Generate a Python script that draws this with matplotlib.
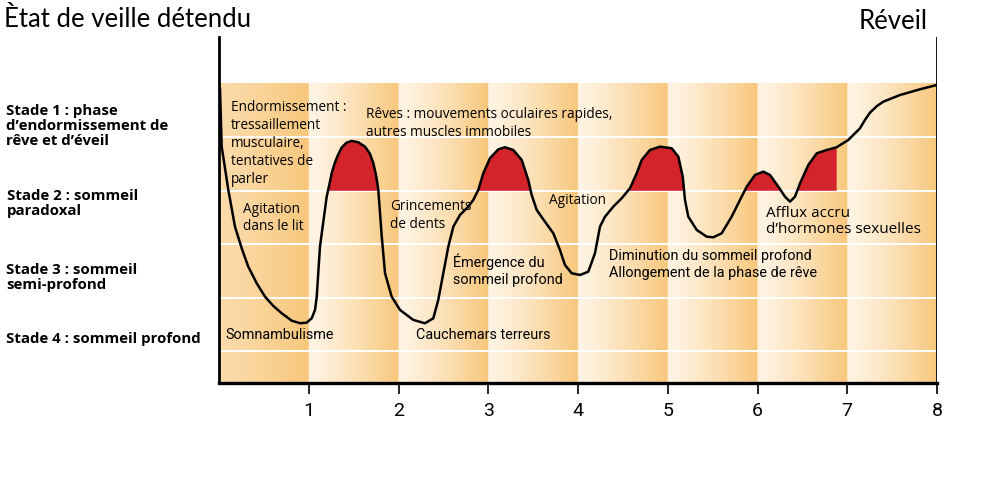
import numpy as np
import matplotlib
matplotlib.use("Agg")
import matplotlib.pyplot as plt
from matplotlib.colors import to_rgb

# ---- data (hours, sleep level: white lines at 1..5, band top at 6) ----
hours = [0.011, 0.030, 0.104, 0.178, 0.253, 0.326, 0.420, 0.513, 0.605, 0.699, 0.810,
         0.903, 0.977, 1.033, 1.070, 1.089, 1.125, 1.200, 1.230, 1.256, 1.290, 1.320,
         1.367, 1.420, 1.479, 1.550, 1.627, 1.680, 1.719, 1.745, 1.762, 1.775, 1.813,
         1.850, 1.924, 2.017, 2.165, 2.295, 2.388, 2.443, 2.499, 2.555, 2.611, 2.685,
         2.778, 2.833, 2.889, 2.945, 3.019, 3.112, 3.187, 3.279, 3.373, 3.446, 3.484,
         3.540, 3.632, 3.725, 3.799, 3.855, 3.930, 4.022, 4.115, 4.189, 4.245, 4.301,
         4.393, 4.487, 4.579, 4.654, 4.710, 4.802, 4.914, 5.044, 5.118, 5.167, 5.192,
         5.229, 5.323, 5.434, 5.508, 5.601, 5.712, 5.805, 5.880, 5.972, 6.065, 6.139,
         6.232, 6.306, 6.362, 6.418, 6.474, 6.566, 6.660, 6.771, 6.882, 7.011, 7.142,
         7.197, 7.253, 7.331, 7.402, 7.588, 7.811, 7.997]
levels = [5.925, 4.826, 4.015, 3.328, 2.923, 2.579, 2.268, 2.017, 1.843, 1.706, 1.567,
          1.519, 1.530, 1.612, 1.768, 2.017, 2.953, 3.890, 4.120, 4.333, 4.520, 4.650,
          4.810, 4.900, 4.933, 4.910, 4.826, 4.700, 4.521, 4.330, 4.170, 4.015, 3.150,
          2.455, 2.017, 1.768, 1.581, 1.519, 1.612, 1.955, 2.455, 2.953, 3.328, 3.547,
          3.702, 3.828, 4.015, 4.328, 4.609, 4.777, 4.815, 4.764, 4.577, 4.202, 3.921,
          3.640, 3.421, 3.204, 2.891, 2.610, 2.455, 2.423, 2.485, 2.830, 3.328, 3.515,
          3.702, 3.860, 4.047, 4.328, 4.577, 4.764, 4.826, 4.796, 4.639, 4.264, 3.828,
          3.515, 3.266, 3.140, 3.129, 3.204, 3.515, 3.828, 4.077, 4.296, 4.358, 4.296,
          4.077, 3.890, 3.796, 3.890, 4.140, 4.483, 4.702, 4.764, 4.815, 4.951, 5.170,
          5.326, 5.462, 5.588, 5.669, 5.794, 5.901, 5.981]
hour_ticks = [1, 2, 3, 4, 5, 6, 7, 8]
grid_levels = [1, 2, 3, 4, 5]
rem_level = 4
rem_start = 1.0
rem_end = 6.882

title_left = "Ètat de veille détendu"
title_right = "Réveil"
stage_labels = ["Stade 1 : phase\nd\u2019endormissement de\nrêve et d\u2019éveil",
                "Stade 2 : sommeil\nparadoxal",
                "Stade 3 : sommeil\nsemi-profond",
                "Stade 4 : sommeil profond"]
notes = ["Endormissement :\ntressaillement\nmusculaire,\ntentatives de\nparler",
         "Rêves : mouvements oculaires rapides,\nautres muscles immobiles",
         "Agitation\ndans le lit",
         "Grincements\nde dents",
         "Agitation",
         "Afflux accru\nd\u2019hormones sexuelles"]
notes_narrow = ["Émergence du\nsommeil profond",
                "Diminution du sommeil profond\nAllongement de la phase de rêve",
                "Somnambulisme",
                "Cauchemars terreurs"]

# ---- figure ----
W, H = 992, 483
fig = plt.figure(figsize=(W / 100, H / 100), dpi=100)
ax = fig.add_axes([219 / W, 1 - 383 / H, (937 - 219) / W, (383 - 37) / H])
ax.set_xlim(0, 8)
ax.set_ylim(0.40, 6.88)

# background gradient bands
light = np.array(to_rgb("#fff4e4"))
dark = np.array(to_rgb("#f8c77c"))
n = 120
t = np.linspace(0, 1, n) ** 1.25
col = light[None, :] * (1 - t[:, None]) + dark[None, :] * t[:, None]
img = np.concatenate([col] * 8, axis=0)[None, :, :]
img[0, :n] = light[None, :] * 0.45 * (1 - t[:, None]) + dark[None, :] * (0.55 + 0.45 * t[:, None])
ax.imshow(img, extent=[0, 8, 0.40, 6.0], aspect="auto", interpolation="bilinear", zorder=0)

for g in grid_levels:
    ax.axhline(g, color="white", lw=1.4, zorder=1)

x = np.array(hours)
y = np.array(levels)
ax.fill_between(x, rem_level, y,
                where=(y >= rem_level) & (x >= rem_start) & (x <= rem_end + 1e-6),
                interpolate=True, color="#d3232b", lw=0, zorder=2)
ax.plot(x, y, color="black", lw=1.8, zorder=3, solid_capstyle="round",
        solid_joinstyle="round")

# axes frame
for s in ["top", "right"]:
    ax.spines[s].set_visible(False)
ax.spines["left"].set_linewidth(2.0)
ax.spines["bottom"].set_linewidth(2.4)
ax.axvline(8, color="black", lw=2.0, zorder=4)
ax.set_yticks([])
ax.set_xticks(hour_ticks)
ax.set_xticklabels([str(h) for h in hour_ticks],
                   fontfamily=["Roboto", "DejaVu Sans"], fontsize=14)
ax.tick_params(axis="x", length=8, width=1.2, pad=6)

def px(xp, yp):
    return xp / W, 1 - yp / H

sans = ["Open Sans", "DejaVu Sans"]
narrow = ["Roboto", "DejaVu Sans"]

fig.text(*px(4, 7), title_left, fontfamily=["Lato", "DejaVu Sans"], fontsize=18.5,
         va="top", ha="left")
fig.text(*px(928, 9), title_right, fontfamily=["Lato", "DejaVu Sans"], fontsize=18.5,
         va="top", ha="right")

stage_pos = [(6, 104), (7, 189), (6, 263), (6, 332)]
for (xp, yp), s in zip(stage_pos, stage_labels):
    fig.text(*px(xp, yp), s, fontfamily=sans, fontsize=10.8, fontweight="bold",
             va="top", ha="left", linespacing=1.1)

note_pos = [(231, 100), (366, 107), (243, 202), (390, 199), (549, 193), (766, 206)]
note_size = [9.8, 9.8, 9.8, 9.8, 9.8, 11]
note_ls = [1.27, 1.27, 1.15, 1.27, 1.2, 1.1]
for (xp, yp), s, fs, ls in zip(note_pos, notes, note_size, note_ls):
    fig.text(*px(xp, yp), s, fontfamily=sans, fontsize=fs, va="top", ha="left",
             linespacing=ls)

narrow_pos = [(453, 253), (609, 249), (225, 328), (416, 328)]
for (xp, yp), s in zip(narrow_pos, notes_narrow):
    fig.text(*px(xp, yp), s, fontfamily=narrow, fontsize=10.4, va="top", ha="left",
             linespacing=1.3)

fig.savefig("out.png", dpi=100, facecolor="white")
